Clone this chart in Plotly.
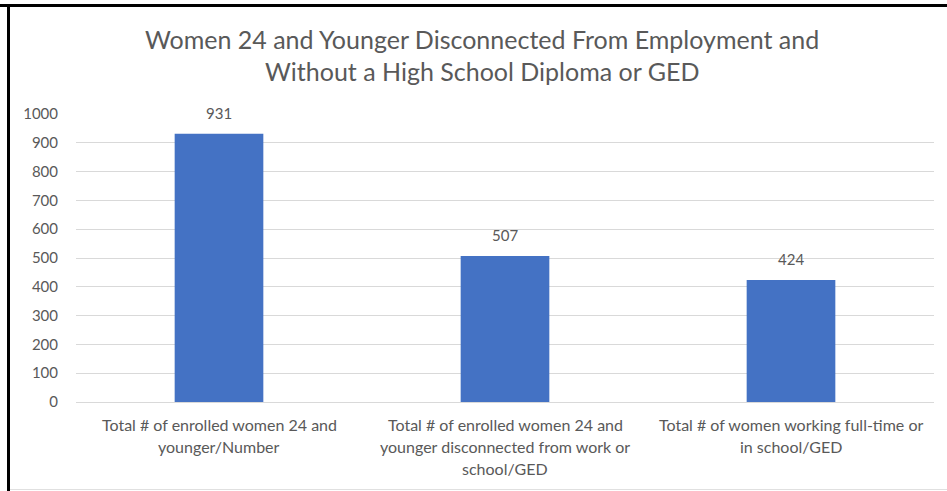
import plotly.graph_objects as go

# Chart data
categories = [
    "Total # of enrolled women 24 and<br>younger/Number",
    "Total # of enrolled women 24 and<br>younger disconnected from work or<br>school/GED",
    "Total # of women working full-time or<br>in school/GED",
]
values = [931, 507, 424]
y_ticks = list(range(0, 1001, 100))
title_lines = [
    "Women 24 and Younger Disconnected From Employment and",
    "Without a High School Diploma or GED",
]

W, H = 947, 491
ML, MR, MT, MB = 76, 13, 114, 89
PW, PH = W - ML - MR, H - MT - MB

FONT = "Lato"
TEXT = "#595959"
BAR = "#4472C4"
GRID = "#D9D9D9"


def px_x(p):
    return (p - ML) / PW


def px_y(p):
    return (H - MB - p) / PH


xs = list(range(len(categories)))

fig = go.Figure(
    go.Bar(
        x=xs,
        y=values,
        marker=dict(color=BAR, line=dict(width=0)),
        width=0.31,
        hoverinfo="skip",
    )
)

annotations = []
# value labels above bars
for x, v in zip(xs, values):
    annotations.append(dict(
        x=x, y=v, xref="x", yref="y", text=str(v), showarrow=False,
        yanchor="bottom", yshift=10,
        font=dict(family=FONT, size=15, color=TEXT),
    ))
# category labels, one annotation per line for wider line spacing
for x, label in zip(xs, categories):
    for i, line in enumerate(label.split("<br>")):
        annotations.append(dict(
            x=x, y=px_y(H - MB + 22 + 22 * i), xref="x", yref="paper",
            text=line, showarrow=False, yanchor="middle",
            font=dict(family=FONT, size=16, color=TEXT),
        ))
# title lines
for i, line in enumerate(title_lines):
    annotations.append(dict(
        x=px_x(482), xref="paper", y=px_y(39 + 32 * i), yref="paper",
        text=line, showarrow=False, yanchor="middle", xanchor="center",
        font=dict(family=FONT, size=25, color=TEXT),
    ))

shapes = [
    # frame: heavy top and left edges, light bottom edge
    dict(type="line", xref="paper", yref="paper",
         x0=px_x(0), x1=px_x(W), y0=px_y(5.5), y1=px_y(5.5),
         line=dict(color="black", width=3)),
    dict(type="line", xref="paper", yref="paper",
         x0=px_x(8.5), x1=px_x(8.5), y0=px_y(4), y1=px_y(H),
         line=dict(color="black", width=3)),
    dict(type="line", xref="paper", yref="paper",
         x0=px_x(10), x1=px_x(W), y0=px_y(489.5), y1=px_y(489.5),
         line=dict(color="#E0E0E0", width=1)),
]

fig.update_layout(
    width=W, height=H,
    margin=dict(l=ML, r=MR, t=MT, b=MB),
    paper_bgcolor="white", plot_bgcolor="white",
    showlegend=False,
    annotations=annotations,
    shapes=shapes,
    xaxis=dict(
        range=[-0.5, len(categories) - 0.5],
        showticklabels=False, showgrid=False, zeroline=False,
        showline=False, ticks="", fixedrange=True,
    ),
    yaxis=dict(
        range=[0, 1000], tickvals=y_ticks,
        showgrid=True, gridcolor=GRID, gridwidth=1,
        zeroline=True, zerolinecolor=GRID, zerolinewidth=1,
        showline=False, ticks="", ticklabelstandoff=17,
        tickfont=dict(family=FONT, size=15, color=TEXT),
        fixedrange=True,
    ),
)

fig.write_html("out.html")
